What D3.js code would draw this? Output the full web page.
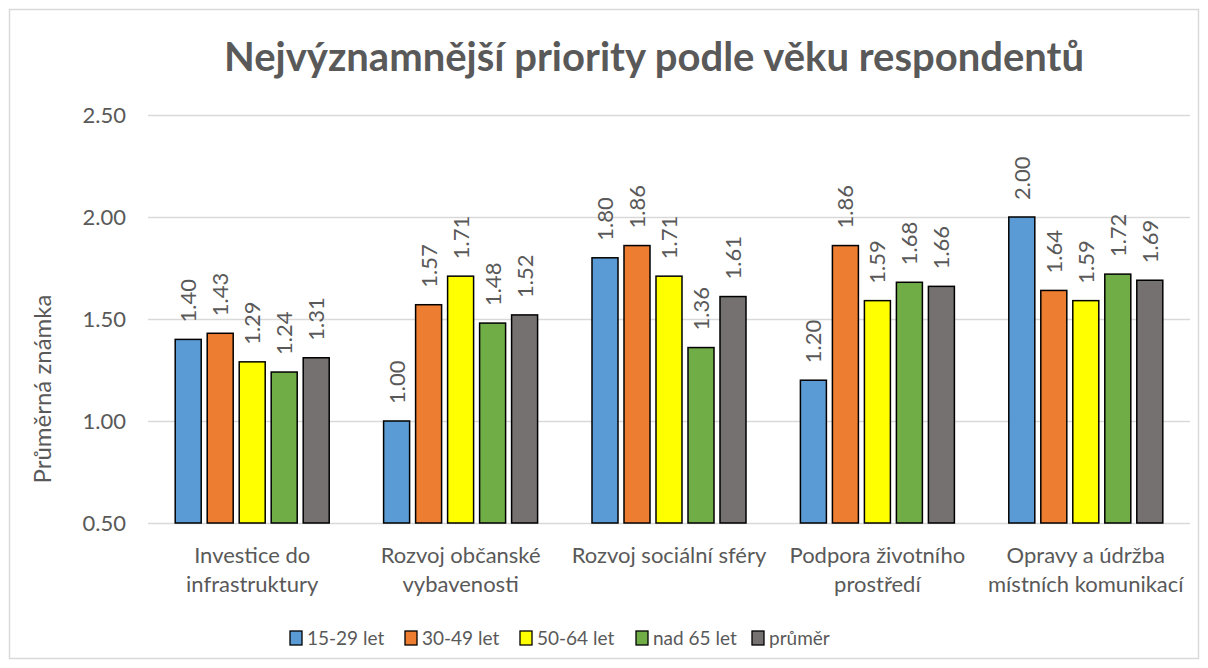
<!DOCTYPE html>
<html lang="cs">
  <head>
    <meta charset="utf-8">
    <title>Nejvýznamnější priority</title>
    <script src="https://d3js.org/d3.v7.js"></script>
    <style>
      body { margin: 0; background: #fff; }
      text { font-family: Lato, "Noto Sans", sans-serif; fill: #595959; }
    </style>
  </head>
  <body>
    <script type="text/javascript">

      // data
      const categories = [
        ["Investice do", "infrastruktury"],
        ["Rozvoj občanské", "vybavenosti"],
        ["Rozvoj sociální sféry"],
        ["Podpora životního", "prostředí"],
        ["Opravy a údržba", "místních komunikací"]
      ];
      const seriesNames = ["15-29 let", "30-49 let", "50-64 let", "nad 65 let", "průměr"];
      const seriesColors = ["#5B9BD5", "#ED7D31", "#FFFF00", "#70AD47", "#767171"];
      const v1529 = [1.40, 1.00, 1.80, 1.20, 2.00];
      const v3049 = [1.43, 1.57, 1.86, 1.86, 1.64];
      const v5064 = [1.29, 1.71, 1.71, 1.59, 1.59];
      const vNad65 = [1.24, 1.48, 1.36, 1.68, 1.72];
      const vPrumer = [1.31, 1.52, 1.61, 1.66, 1.69];
      const yTicks = [0.5, 1.0, 1.5, 2.0, 2.5];

      const allSeries = [v1529, v3049, v5064, vNad65, vPrumer];

      const w = 1208, h = 668;
      const plot = {left: 148, right: 1190, top: 115, bottom: 523};

      const svg = d3.select("body").append("svg")
        .attr("width", w)
        .attr("height", h);

      // chart frame
      svg.append("rect")
        .attr("x", 9.5).attr("y", 9.5)
        .attr("width", 1189).attr("height", 649)
        .attr("fill", "#fff")
        .attr("stroke", "#d9d9d9")
        .attr("stroke-width", 1.5);

      const catIdx = d3.range(categories.length);

      const x0 = d3.scaleBand()
        .domain(catIdx)
        .range([plot.left, plot.right])
        .padding(0);

      const x1 = d3.scaleBand()
        .domain(d3.range(seriesNames.length))
        .range([27.2, x0.bandwidth() - 27.2])
        .paddingInner(0.1875)
        .paddingOuter(0);

      const y = d3.scaleLinear()
        .domain([0.5, 2.5])
        .range([plot.bottom, plot.top]);

      // gridlines
      svg.append("g")
        .selectAll("line")
        .data(yTicks)
        .join("line")
        .attr("x1", plot.left)
        .attr("x2", plot.right)
        .attr("y1", d => Math.round(y(d)) + 0.5)
        .attr("y2", d => Math.round(y(d)) + 0.5)
        .attr("stroke", "#d9d9d9")
        .attr("stroke-width", 1.5);

      // y axis labels
      svg.append("g")
        .selectAll("text")
        .data(yTicks)
        .join("text")
        .attr("x", 126)
        .attr("y", d => y(d) + 8)
        .attr("text-anchor", "end")
        .style("font-size", "22px")
        .text(d => d3.format(".2f")(d));

      // title
      svg.append("text")
        .attr("x", 654)
        .attr("y", 71)
        .attr("text-anchor", "middle")
        .style("font-size", "40px")
        .style("font-weight", "bold")
        .text("Nejvýznamnější priority podle věku respondentů");

      // y axis title
      svg.append("text")
        .attr("transform", "translate(51, 389) rotate(-90)")
        .attr("text-anchor", "middle")
        .style("font-size", "24px")
        .text("Průměrná známka");

      // bars
      const groups = svg.append("g")
        .selectAll("g")
        .data(catIdx)
        .join("g")
        .attr("transform", i => `translate(${x0(i)},0)`);

      groups.selectAll("rect")
        .data(i => allSeries.map((s, k) => ({k: k, v: s[i]})))
        .join("rect")
        .attr("x", d => x1(d.k))
        .attr("y", d => y(d.v))
        .attr("width", x1.bandwidth())
        .attr("height", d => y(0.5) - y(d.v))
        .attr("fill", d => seriesColors[d.k])
        .attr("stroke", "#000")
        .attr("stroke-width", 1.5);

      // value labels
      groups.selectAll("text.val")
        .data(i => allSeries.map((s, k) => ({k: k, v: s[i]})))
        .join("text")
        .attr("class", "val")
        .attr("transform", d => `translate(${x1(d.k) + x1.bandwidth() / 2 + 8}, ${y(d.v) - 17}) rotate(-90)`)
        .attr("text-anchor", "start")
        .style("font-size", "22px")
        .text(d => d3.format(".2f")(d.v));

      // category labels
      const catLabels = svg.append("g")
        .selectAll("text")
        .data(catIdx)
        .join("text")
        .attr("x", i => x0(i) + x0.bandwidth() / 2)
        .attr("y", 563)
        .attr("text-anchor", "middle")
        .style("font-size", "22px");

      catLabels.selectAll("tspan")
        .data(i => categories[i])
        .join("tspan")
        .attr("x", function() { return d3.select(this.parentNode).attr("x"); })
        .attr("dy", (d, j) => j === 0 ? 0 : 29)
        .text(d => d);

      // legend
      const legendX = [290, 405, 520, 636, 752];
      const legend = svg.append("g")
        .selectAll("g")
        .data(seriesNames)
        .join("g")
        .attr("transform", (d, k) => `translate(${legendX[k]}, 631)`);

      legend.append("rect")
        .attr("width", 12)
        .attr("height", 14)
        .attr("fill", (d, k) => seriesColors[k])
        .attr("stroke", "#000")
        .attr("stroke-width", 1.3);

      legend.append("text")
        .attr("x", 17)
        .attr("y", 14)
        .style("font-size", "19px")
        .text(d => d);

    </script>
  </body>
</html>
